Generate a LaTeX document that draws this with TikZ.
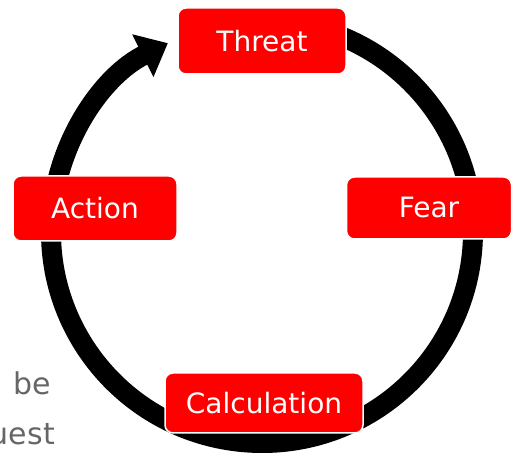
\documentclass[tikz,border=0pt]{standalone}
\usepackage{fontspec}
\setmainfont{DejaVu Sans}
\usetikzlibrary{arrows.meta}
\tikzset{
  box/.style={rectangle, rounded corners=8pt, fill=red, draw=white, line width=1.5pt,
    text=white, font=\fontsize{28}{32}\selectfont, inner sep=0pt},
  cycle/.style={line width=20pt, draw=black, -{Triangle[width=46pt,length=28pt]}},
  graytext/.style={text=black!60, font=\fontsize{30}{34}\selectfont, inner sep=0pt}
}
\begin{document}
\begin{tikzpicture}[x=1pt,y=1pt]
\useasboundingbox (0,0) rectangle (512,454);
\clip (0,0) rectangle (512,454);
\coordinate (c) at (262,222);
\draw[cycle] (c) ++(85:211) arc[start angle=85, end angle=-243.5, radius=211];
\node[box, minimum width=168pt, minimum height=66pt] (threat) at (262,413) {Threat};
\node[box, minimum width=165pt, minimum height=62pt] (fear) at (429,246) {Fear};
\node[box, minimum width=164pt, minimum height=65pt] (action) at (95,245.5) {Action};
\node[box, minimum width=198pt, minimum height=60pt] (calc) at (264,51) {Calculation};
\node[graytext, anchor=base west] (be) at (13,59) {be};
\node[graytext, anchor=base east] (uest) at (55,9) {uest};
\end{tikzpicture}
\end{document}
